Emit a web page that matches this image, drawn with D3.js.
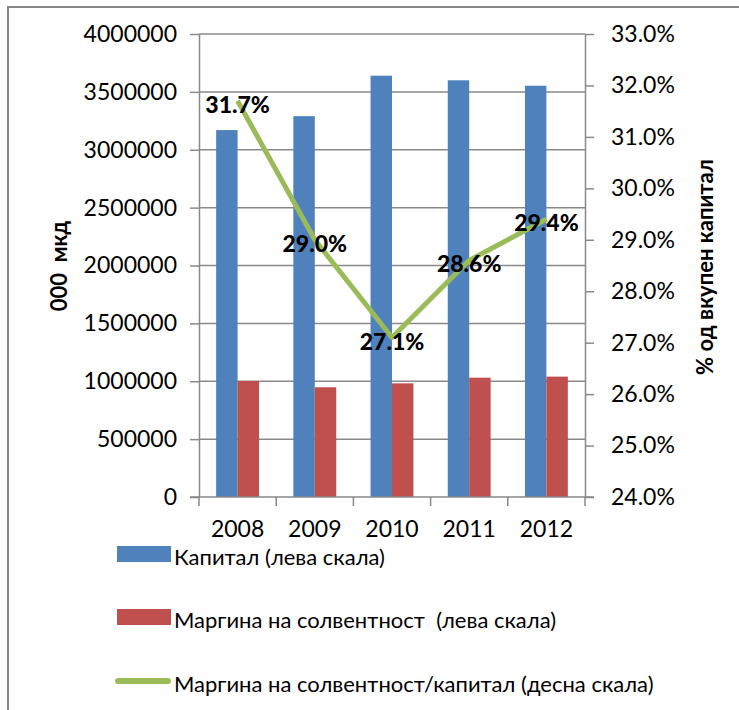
<!DOCTYPE html>
<html>
<head>
<meta charset="utf-8">
<script src="https://cdn.jsdelivr.net/npm/d3@7"></script>
<style>
  html, body { margin: 0; padding: 0; background: #fff; }
  svg { display: block; font-family: Lato, "Open Sans", sans-serif; }
  text { white-space: pre; }
</style>
</head>
<body>
<svg id="chart" width="739" height="710"></svg>
<script>
// Years on the category axis
const years = ["2008", "2009", "2010", "2011", "2012"];
// Capital, thousand MKD (left scale)
const capital = [3170000, 3290000, 3640000, 3600000, 3553000];
// Solvency margin, thousand MKD (left scale)
const solvencyMargin = [1002000, 948000, 982000, 1031000, 1040000];
// Solvency margin as % of capital (right scale)
const marginRatio = [31.7, 29.0, 27.1, 28.6, 29.4];

const leftTicks = [0, 500000, 1000000, 1500000, 2000000, 2500000, 3000000, 3500000, 4000000];
const rightTicks = [24, 25, 26, 27, 28, 29, 30, 31, 32, 33];

const seriesNames = [
  "Капитал (лева скала)",
  "Маргина на солвентност  (лева скала)",
  "Маргина на солвентност/капитал (десна скала)"
];
const colors = { capital: "#4F81BD", margin: "#C0504D", ratio: "#9BBB59" };

const svg = d3.select("#chart");
const plot = { left: 199, right: 585, top: 34, bottom: 497 };
const gridColor = "#898989";

// Outer frame (top and left edges)
svg.append("path")
  .attr("d", `M8,712 L8,7 L741,7`)
  .attr("fill", "none")
  .attr("stroke", "#878787")
  .attr("stroke-width", 2);

const x = d3.scaleBand().domain(years).range([plot.left, plot.right]).padding(0);
const yLeft = d3.scaleLinear().domain([0, 4000000]).range([plot.bottom, plot.top]);
const yRight = d3.scaleLinear().domain([24, 33]).range([plot.bottom, plot.top]);

// Clustered bars: gap width 160% of a bar
const gapWidth = 1.6;
const barW = x.bandwidth() / (2 + gapWidth);
const inner = d3.scaleBand().domain(["capital", "margin"])
  .range([0, barW * 2]).padding(0);
const groupOffset = (x.bandwidth() - barW * 2) / 2;

// Horizontal gridlines
svg.append("g").selectAll("line").data(leftTicks.filter(d => d > 0)).join("line")
  .attr("x1", plot.left).attr("x2", plot.right)
  .attr("y1", d => yLeft(d)).attr("y2", d => yLeft(d))
  .attr("stroke", gridColor).attr("stroke-width", 1.5);

// Bars
const bars = svg.append("g");
years.forEach((yr, i) => {
  const gx = x(yr) + groupOffset;
  bars.append("rect")
    .attr("x", gx + inner("capital")).attr("width", inner.bandwidth())
    .attr("y", yLeft(capital[i])).attr("height", yLeft(0) - yLeft(capital[i]))
    .attr("fill", colors.capital);
  bars.append("rect")
    .attr("x", gx + inner("margin")).attr("width", inner.bandwidth())
    .attr("y", yLeft(solvencyMargin[i])).attr("height", yLeft(0) - yLeft(solvencyMargin[i]))
    .attr("fill", colors.margin);
});

// Axes
const leftAxis = d3.axisLeft(yLeft).tickValues(leftTicks).tickSize(9).tickSizeOuter(0)
  .tickPadding(13).tickFormat(d3.format("d"));
const rightAxis = d3.axisRight(yRight).tickValues(rightTicks).tickSize(9).tickSizeOuter(0)
  .tickPadding(17).tickFormat(d => d.toFixed(1) + "%");
const bottomAxis = d3.axisBottom(x).tickSize(0).tickPadding(24);

function styleAxis(g) {
  g.selectAll("path, line").attr("stroke", gridColor).attr("stroke-width", 1.5);
  g.selectAll("text").attr("fill", "#000").style("font-size", "23px")
    .style("font-family", "Lato, 'Open Sans', sans-serif");
}

svg.append("g").attr("transform", `translate(${plot.left},0)`).call(leftAxis).call(styleAxis);
svg.append("g").attr("transform", `translate(${plot.right},0)`).call(rightAxis).call(styleAxis);

const bx = svg.append("g").attr("transform", `translate(0,${plot.bottom})`).call(bottomAxis).call(styleAxis);
bx.select(".domain").attr("d", `M${plot.left - 9},0H${plot.right + 9}`);
// Category separator ticks
svg.append("g").selectAll("line")
  .data(years.map(d => x(d)).concat([x(years[years.length - 1]) + x.bandwidth()]))
  .join("line")
  .attr("x1", d => d).attr("x2", d => d)
  .attr("y1", plot.bottom).attr("y2", plot.bottom + 9)
  .attr("stroke", gridColor).attr("stroke-width", 1.5);

// Ratio line
const line = d3.line()
  .x((d, i) => x(years[i]) + x.bandwidth() / 2)
  .y(d => yRight(d));
svg.append("path").datum(marginRatio)
  .attr("d", line)
  .attr("fill", "none")
  .attr("stroke", colors.ratio)
  .attr("stroke-width", 5)
  .attr("stroke-linejoin", "round");

// Value labels on the ratio line
svg.append("g").selectAll("text").data(marginRatio).join("text")
  .attr("x", (d, i) => x(years[i]) + x.bandwidth() / 2)
  .attr("y", d => yRight(d) + 3)
  .attr("text-anchor", "middle")
  .attr("dominant-baseline", "central")
  .style("font-size", "23px").style("font-weight", "900")
  .text(d => d.toFixed(1) + "%");

// Axis titles
svg.append("text")
  .attr("transform", `translate(58,266) rotate(-90)`)
  .attr("text-anchor", "middle").attr("dominant-baseline", "central")
  .style("font-size", "22px").style("font-weight", "bold")
  .text("000  мкд");
svg.append("text")
  .attr("transform", `translate(704,267) rotate(-90)`)
  .attr("text-anchor", "middle").attr("dominant-baseline", "central")
  .style("font-size", "22px").style("font-weight", "bold")
  .text("% од вкупен капитал");

// Legend
const legendRows = [
  { y: 554, type: "rect", color: colors.capital, name: seriesNames[0] },
  { y: 617, type: "rect", color: colors.margin, name: seriesNames[1] },
  { y: 681, type: "line", color: colors.ratio, name: seriesNames[2] }
];
const legend = svg.append("g");
legendRows.forEach(r => {
  if (r.type === "rect") {
    legend.append("rect").attr("x", 117).attr("y", r.y - 8).attr("width", 54).attr("height", 16)
      .attr("fill", r.color);
  } else {
    legend.append("line").attr("x1", 118).attr("x2", 168).attr("y1", r.y).attr("y2", r.y)
      .attr("stroke", r.color).attr("stroke-width", 6).attr("stroke-linecap", "round");
  }
  legend.append("text").attr("x", 174).attr("y", r.y + 2)
    .attr("dominant-baseline", "central")
    .style("font-size", "22px")
    .text(r.name);
});
</script>
</body>
</html>
